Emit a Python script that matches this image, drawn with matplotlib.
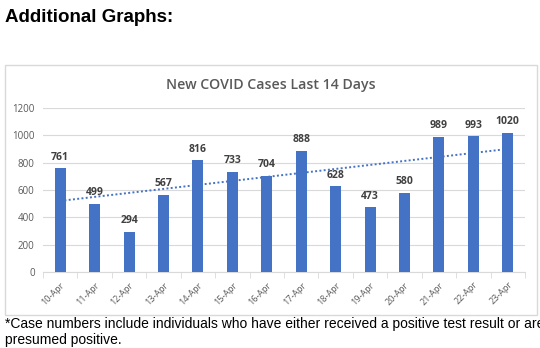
#!/bin/env python3

'''
New COVID cases over the last 14 days, bar chart with linear trend line
'''

import numpy as np
import matplotlib.pyplot as plt
from matplotlib.patches import Rectangle

days = ["10-Apr", "11-Apr", "12-Apr", "13-Apr", "14-Apr", "15-Apr", "16-Apr",
        "17-Apr", "18-Apr", "19-Apr", "20-Apr", "21-Apr", "22-Apr", "23-Apr"]
cases = [761, 499, 294, 567, 816, 733, 704, 888, 628, 473, 580, 989, 993, 1020]
y_ticks = [0, 200, 400, 600, 800, 1000, 1200]

BAR_COLOR = "#4472C4"
GRID_COLOR = "#D9D9D9"
TEXT_COLOR = "#595959"

fig = plt.figure(figsize=(5.4, 3.48), dpi=100)

# page header + chart frame
fig.text(5 / 540, 1 - 18 / 348, "Additional Graphs:", family="Liberation Sans",
         weight="bold", size=13.5, va="center", ha="left")
fig.patches.append(Rectangle((5 / 540, 1 - 315 / 348), 532 / 540, 250 / 348,
                             transform=fig.transFigure, fill=False,
                             edgecolor=GRID_COLOR, linewidth=1))

ax = fig.add_axes([43 / 540, 1 - 272 / 348, 482 / 540, 164 / 348])
x = np.arange(len(days))
ax.bar(x, cases, width=0.32, color=BAR_COLOR, zorder=3)

# linear trend line
coef = np.polyfit(x, cases, 1)
ax.plot(x, np.polyval(coef, x), linestyle=(0, (1, 1.2)), color=BAR_COLOR,
        linewidth=1.4, zorder=4)

for xi, v in zip(x, cases):
    ax.text(xi, v + 40, str(v), ha="center", va="bottom", fontsize=7.5,
            weight="bold", color="#404040", family="Open Sans")

ax.set_xlim(-0.5, len(days) - 0.5)
ax.set_ylim(0, 1200)
ax.set_yticks(y_ticks)
ax.set_yticklabels([str(t) for t in y_ticks], color=TEXT_COLOR, fontsize=7,
                   family="Open Sans")
ax.set_xticks(x)
ax.set_xticklabels(days, rotation=45, ha="right", rotation_mode="anchor",
                   color=TEXT_COLOR, fontsize=6.5, family="Open Sans")
ax.set_xticks(np.arange(len(days) + 1) - 0.5, minor=True)
ax.tick_params(axis="x", which="major", length=0, pad=6)
ax.tick_params(axis="x", which="minor", length=4, color=GRID_COLOR)
ax.tick_params(axis="y", length=0, pad=6)
ax.grid(axis="y", color=GRID_COLOR, linewidth=0.8, zorder=0)
for s in ["top", "right", "left"]:
    ax.spines[s].set_visible(False)
ax.spines["bottom"].set_color(GRID_COLOR)

fig.text(271 / 540, 1 - 85 / 348, "New COVID Cases Last 14 Days", ha="center",
         va="center", fontsize=10.2, weight="semibold", color=TEXT_COLOR,
         family="Open Sans")

# footnote (runs past the right edge, as in the source page)
fig.text(5 / 540, 1 - 324 / 348,
         "*Case numbers include individuals who have either received a positive test result or are",
         family="Liberation Sans", size=10.0, va="center", ha="left")
fig.text(5 / 540, 1 - 340 / 348, "presumed positive.",
         family="Liberation Sans", size=10.0, va="center", ha="left")

fig.savefig("out.png", dpi=100)
